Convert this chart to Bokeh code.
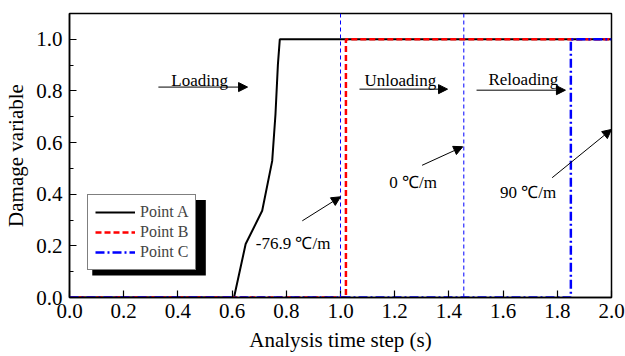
from bokeh.plotting import figure
from bokeh.models import (Range1d, FixedTicker, SingleIntervalTicker,
                          NumeralTickFormatter, Legend, LegendItem, Arrow, NormalHead,
                          Span, BoxAnnotation)
from bokeh.core.properties import value
from bokeh.embed import file_html
from bokeh.resources import INLINE

# ---- data ----
a_x = [0.0, 0.607, 0.65, 0.711, 0.748, 0.760, 0.769, 0.776, 2.0]
a_y = [0.0, 0.0, 0.207, 0.336, 0.529, 0.709, 0.902, 1.0, 1.0]
b_x = [0.0, 1.02, 1.02, 2.0]
b_y = [0.0, 0.0, 1.0, 1.0]
c_x = [0.0, 1.85, 1.85, 2.0]
c_y = [0.0, 0.0, 1.0, 1.0]
series_names = ["Point A", "Point B", "Point C"]
ref_lines_x = [1.0, 1.455]

x_ticks = [0.0, 0.2, 0.4, 0.6, 0.8, 1.0, 1.2, 1.4, 1.6, 1.8, 2.0]

phase_text = ["Loading", "Unloading", "Reloading"]
phase_tx = [0.48, 1.221, 1.675]
phase_ty = [0.842, 0.842, 0.845]
phase_ax0 = [0.328, 1.07, 1.502]
phase_ax1 = [0.657, 1.395, 1.83]
phase_ay = [0.815, 0.807, 0.803]

grad_text = ["-76.9 \u2103/m", "0 \u2103/m", "90 \u2103/m"]
grad_tx = [0.825, 1.268, 1.692]
grad_ty = [0.208, 0.444, 0.405]
grad_ax0 = [0.859, 1.301, 1.781]
grad_ay0 = [0.297, 0.512, 0.464]
grad_ax1 = [1.0, 1.451, 2.0]
grad_ay1 = [0.39, 0.584, 0.651]

FONT = "Times"

p = figure(width=625, height=356, output_backend="svg", toolbar_location=None,
           x_range=Range1d(0, 2.0), y_range=Range1d(0, 1.1),
           min_border_left=69, min_border_right=14, min_border_top=13, min_border_bottom=59)
p.xgrid.visible = False
p.ygrid.visible = False
p.outline_line_color = "black"
p.outline_line_width = 1.5
p.background_fill_color = "white"

# axes
p.xaxis.ticker = FixedTicker(ticks=x_ticks, minor_ticks=[])
p.yaxis.ticker = SingleIntervalTicker(interval=0.2, num_minor_ticks=2)
for ax in (p.xaxis[0], p.yaxis[0]):
    ax.formatter = NumeralTickFormatter(format="0.0")
    ax.axis_line_color = "black"
    ax.axis_line_width = 1.5
    ax.major_tick_in = 7
    ax.major_tick_out = 0
    ax.minor_tick_in = 4
    ax.minor_tick_out = 0
    ax.major_tick_line_width = 1.2
    ax.minor_tick_line_width = 1.2
    ax.major_label_text_font = FONT
    ax.major_label_text_font_size = "21px"
    ax.major_label_text_color = "black"
    ax.axis_label_text_font = FONT
    ax.axis_label_text_font_size = "21px"
    ax.axis_label_text_font_style = "normal"
    ax.axis_label_text_color = "black"
p.xaxis.axis_label = "Analysis time step (s)"
p.yaxis.axis_label = "Damage variable"
p.xaxis.major_label_standoff = 6
p.yaxis.major_label_standoff = 7
p.xaxis.axis_label_standoff = 7
p.yaxis.axis_label_standoff = 5

# reference lines
for xv in ref_lines_x:
    p.add_layout(Span(location=xv, dimension="height", line_color="blue",
                      line_width=1, line_dash="4 3"))

# series
ra = p.line(a_x, a_y, line_color="black", line_width=2)
rb = p.line(b_x, b_y, line_color="red", line_width=2.5, line_dash="6 3")
rc = p.line(c_x, c_y, line_color="blue", line_width=2.5, line_dash="9 3 2 3")

# phase labels and arrows
p.text(x=phase_tx, y=phase_ty, text=phase_text, text_font=value(FONT),
       text_font_size="17px", text_align="center", text_baseline="alphabetic",
       text_color="black")
for x0, x1, y in zip(phase_ax0, phase_ax1, phase_ay):
    p.add_layout(Arrow(x_start=x0, y_start=y, x_end=x1, y_end=y, line_width=1,
                       end=NormalHead(size=9, fill_color="black", line_color="black")))

p.text(x=grad_tx, y=grad_ty, text=grad_text, text_font=value(FONT),
       text_font_size="17px", text_align="center", text_baseline="alphabetic",
       text_color="black")
for x0, y0, x1, y1 in zip(grad_ax0, grad_ay0, grad_ax1, grad_ay1):
    p.add_layout(Arrow(x_start=x0, y_start=y0, x_end=x1, y_end=y1, line_width=1,
                       end=NormalHead(size=9, fill_color="black", line_color="black")))

# legend shadow (data units)
p.add_layout(BoxAnnotation(left=0.084, right=0.503, bottom=0.085, top=0.378,
                           fill_color="black", fill_alpha=1, line_alpha=0))

legend = Legend(items=[LegendItem(label=series_names[0], renderers=[ra]),
                       LegendItem(label=series_names[1], renderers=[rb]),
                       LegendItem(label=series_names[2], renderers=[rc])],
                location=(18, 27), margin=0, padding=7, spacing=0,
                glyph_width=40, glyph_height=20, label_height=20, label_standoff=5,
                label_text_font=FONT, label_text_font_size="16px",
                border_line_color="black", border_line_width=1.5,
                background_fill_color="white", background_fill_alpha=1)
p.add_layout(legend)

open("out.html", "w").write(file_html(p, INLINE))
